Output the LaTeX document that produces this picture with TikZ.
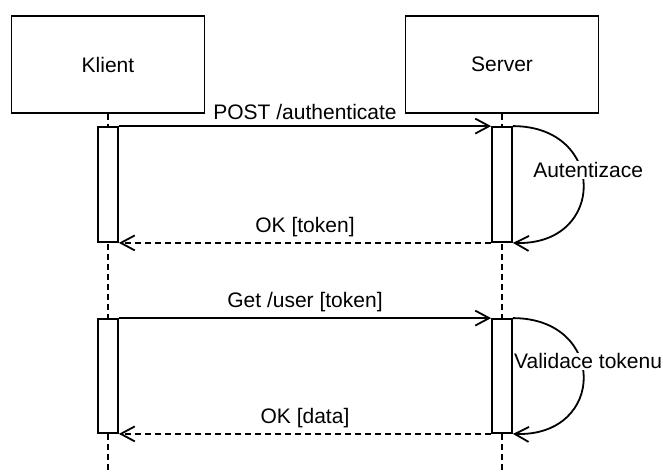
\documentclass[tikz,border=0pt]{standalone}
\usepackage{fontspec}
\setmainfont{Liberation Sans}
\usetikzlibrary{arrows.meta}
\begin{document}
\begin{tikzpicture}[x=1pt,y=-1pt,
  every node/.style={font=\fontsize{21}{25}\selectfont},
  actor/.style={draw, line width=1.8pt, minimum width=193pt, minimum height=97pt, fill=white},
  lifeline/.style={line width=1.8pt, dash pattern=on 6pt off 4pt},
  act/.style={draw, line width=1.8pt, fill=white, minimum width=20pt, inner sep=0pt},
  msg/.style={line width=1.8pt, -{Straight Barb[length=14pt,width=15pt,line width=1.8pt]}},
  reply/.style={msg, dash pattern=on 6pt off 4pt},
  lbl/.style={above, inner sep=5pt},
  selflbl/.style={fill=white, inner sep=1pt, pos=0.41, xshift=7pt}]
\useasboundingbox (0,0) rectangle (663,471);

% participants
\node[actor] (klient) at (108,64.5) {Klient};
\node[actor] (server) at (502,64.5) {Server};

% lifelines
\coordinate (kend) at (108,471);
\coordinate (send) at (502,471);
\draw[lifeline] (klient.south) -- (kend);
\draw[lifeline] (server.south) -- (send);

% activation bars
\node[act, minimum height=115pt] (k1) at (108,184.5) {};
\node[act, minimum height=115pt] (s1) at (502,184.5) {};
\node[act, minimum height=114pt] (k2) at (108,376) {};
\node[act, minimum height=114pt] (s2) at (502,376) {};

% authentication exchange
\draw[msg] (k1.north east) -- node[lbl] {POST /authenticate} (s1.north west);
\draw[msg] (s1.north east) .. controls +(94,0) and +(94,3) .. node[selflbl] {Autentizace} (s1.south east);
\draw[reply] (s1.south west) -- node[lbl] {OK [token]} (k1.south east);

% data request
\draw[msg] (k2.north east) -- node[lbl] {Get /user [token]} (s2.north west);
\draw[msg] (s2.north east) .. controls +(94,0) and +(94,3) .. node[selflbl] {Validace tokenu} (s2.south east);
\draw[reply] (s2.south west) -- node[lbl] {OK [data]} (k2.south east);
\end{tikzpicture}
\end{document}
